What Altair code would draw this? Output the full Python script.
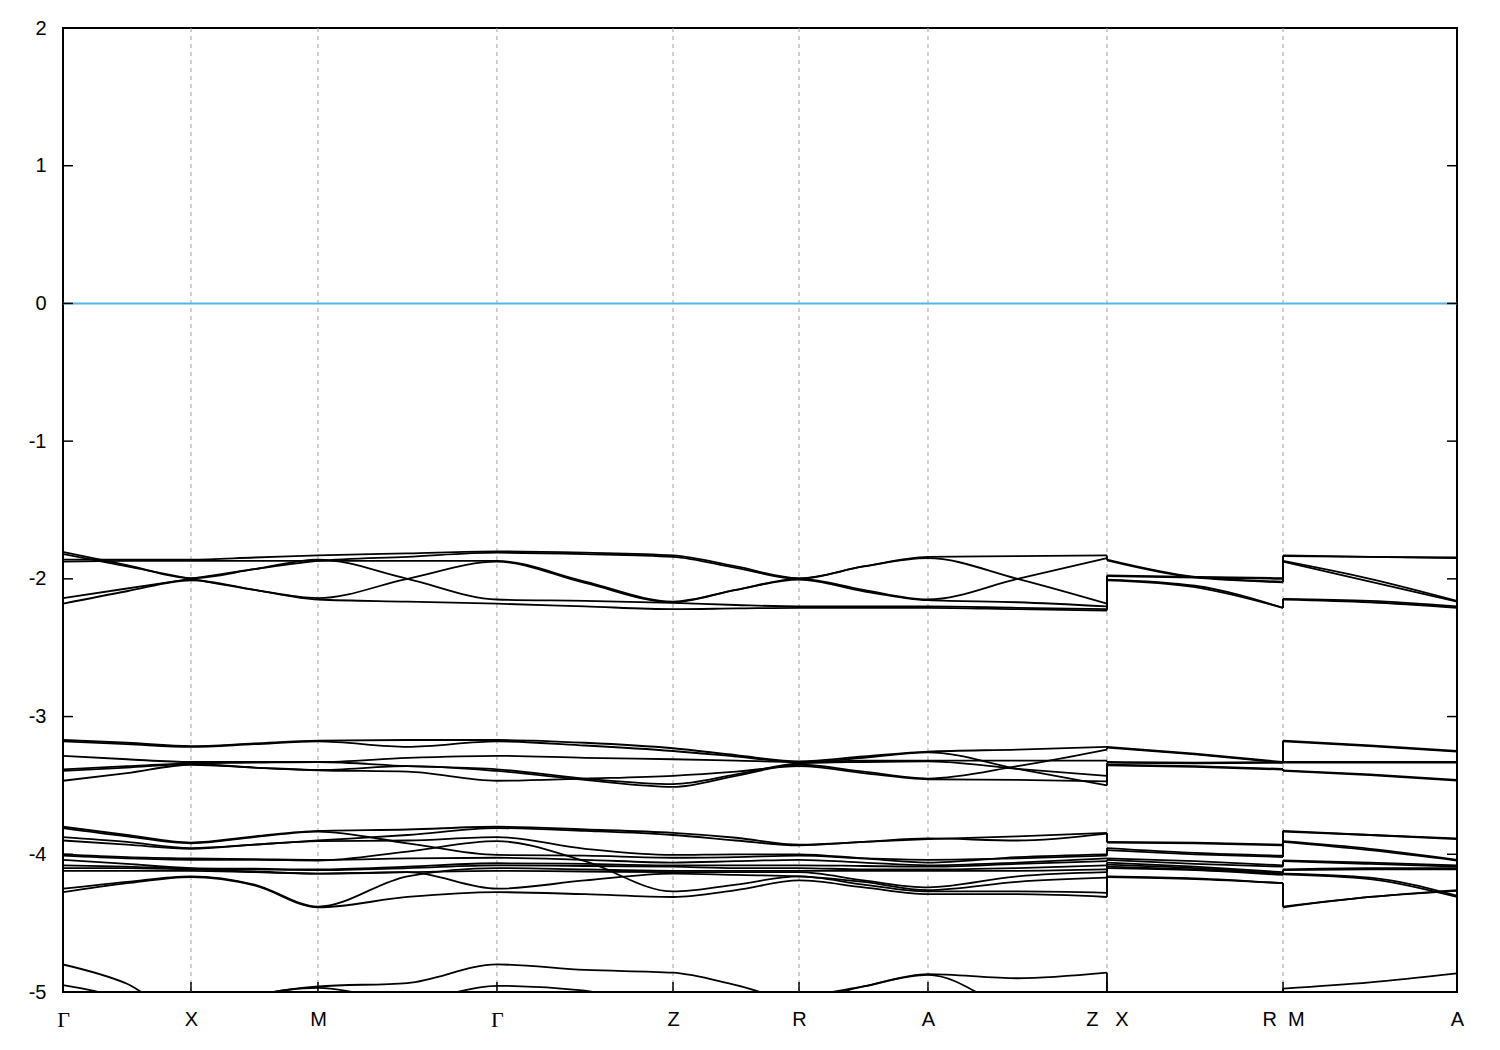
import altair as alt
import pandas as pd

# ---------------- data ----------------
# high-symmetry points (fractional path distance) and their labels
K_POS = [0.0, 0.0918, 0.1829, 0.3113, 0.4376, 0.5280, 0.6205, 0.7489, 0.8752, 1.0]
K_LABELS = ["Γ", "X", "M", "Γ", "Z", "R", "A",
            "Z\u00a0\u00a0\u00a0X", "R\u00a0\u00a0M", "A"]
Y_TICKS = [-5, -4, -3, -2, -1, 0, 1, 2]
FERMI = [0.0]

# band energies (eV) sampled at
# Γ,·,X,·,M,·,Γ,·,Z,·,R,·,A,·,Z | X,·,R | M,·,A
B1 = [-1.805, -1.90, -1.995, -1.93, -1.86, -2.00, -2.15, -2.16, -2.175, -2.19, -2.20, -2.20, -2.20, -2.21, -2.22, -2.005, -2.05, -2.21, -2.145, -2.16, -2.20]
B2 = [-1.82, -1.91, -2.00, -2.08, -2.14, -2.00, -1.875, -2.03, -2.17, -2.08, -2.005, -2.09, -2.155, -2.17, -2.20, -1.98, -1.99, -2.00, -1.875, -2.02, -2.165]
B3 = [-1.86, -1.86, -1.86, -1.845, -1.83, -1.815, -1.80, -1.81, -1.83, -1.91, -1.995, -1.91, -1.84, -1.835, -1.83, -1.86, -1.985, -2.02, -1.83, -1.84, -1.845]
B4 = [-1.875, -1.87, -1.87, -1.87, -1.87, -1.87, -1.87, -2.02, -2.165, -2.08, -2.00, -2.08, -2.15, -2.00, -1.85, -1.865, -1.99, -2.025, -1.835, -1.84, -1.85]
B5 = [-2.14, -2.07, -2.00, -1.93, -1.87, -1.84, -1.81, -1.82, -1.84, -1.92, -2.00, -1.91, -1.85, -2.00, -2.18, -1.975, -1.985, -1.995, -1.87, -2.00, -2.16]
B6 = [-2.18, -2.09, -2.01, -2.08, -2.15, -2.165, -2.18, -2.20, -2.22, -2.215, -2.21, -2.21, -2.21, -2.22, -2.23, -2.01, -2.06, -2.21, -2.15, -2.17, -2.21]

C1 = [-3.17, -3.19, -3.215, -3.195, -3.175, -3.17, -3.17, -3.19, -3.23, -3.28, -3.325, -3.29, -3.255, -3.24, -3.22, -3.22, -3.27, -3.33, -3.175, -3.21, -3.25]
C2 = [-3.18, -3.20, -3.22, -3.20, -3.18, -3.22, -3.18, -3.21, -3.25, -3.29, -3.33, -3.30, -3.26, -3.38, -3.50, -3.35, -3.36, -3.38, -3.39, -3.42, -3.46]
C3 = [-3.285, -3.31, -3.33, -3.33, -3.33, -3.30, -3.285, -3.30, -3.31, -3.32, -3.33, -3.32, -3.32, -3.32, -3.32, -3.33, -3.335, -3.33, -3.33, -3.33, -3.33]
C4 = [-3.383, -3.36, -3.34, -3.335, -3.33, -3.36, -3.383, -3.45, -3.49, -3.42, -3.34, -3.33, -3.325, -3.38, -3.43, -3.335, -3.34, -3.335, -3.335, -3.335, -3.335]
C5 = [-3.395, -3.37, -3.345, -3.37, -3.388, -3.36, -3.395, -3.46, -3.51, -3.43, -3.35, -3.40, -3.45, -3.36, -3.24, -3.225, -3.275, -3.335, -3.18, -3.215, -3.255]
C6 = [-3.466, -3.41, -3.35, -3.37, -3.39, -3.40, -3.466, -3.45, -3.43, -3.40, -3.36, -3.41, -3.455, -3.46, -3.47, -3.355, -3.365, -3.385, -3.395, -3.425, -3.465]

D1 = [-3.80, -3.86, -3.915, -3.87, -3.83, -3.82, -3.80, -3.82, -3.845, -3.88, -3.93, -3.91, -3.885, -3.90, -3.85, -3.91, -3.915, -3.93, -3.83, -3.86, -3.885]
D2 = [-3.81, -3.87, -3.92, -3.875, -3.835, -3.92, -4.005, -4.01, -4.025, -4.02, -4.01, -4.03, -4.04, -4.03, -4.01, -3.97, -4.00, -4.02, -3.91, -3.97, -4.045]
D3 = [-3.875, -3.91, -3.955, -3.93, -3.90, -3.86, -3.81, -3.83, -3.86, -3.90, -3.935, -3.91, -3.89, -3.87, -3.845, -3.915, -3.92, -3.935, -3.835, -3.86, -3.89]
D4 = [-3.90, -3.93, -3.96, -3.93, -3.905, -3.90, -3.875, -3.96, -4.005, -4.00, -4.00, -4.03, -4.06, -4.02, -4.00, -3.955, -3.99, -4.01, -3.905, -3.96, -4.04]
D5 = [-4.00, -4.02, -4.03, -4.035, -4.04, -4.03, -4.025, -4.04, -4.06, -4.05, -4.04, -4.06, -4.08, -4.06, -4.03, -4.03, -4.05, -4.08, -4.045, -4.06, -4.08]
D6 = [-4.01, -4.03, -4.04, -4.04, -4.045, -3.98, -3.905, -4.05, -4.27, -4.22, -4.16, -4.22, -4.27, -4.27, -4.28, -4.16, -4.175, -4.21, -4.38, -4.31, -4.26]
D7 = [-4.04, -4.07, -4.10, -4.105, -4.11, -4.09, -4.065, -4.07, -4.08, -4.08, -4.08, -4.085, -4.09, -4.07, -4.05, -4.04, -4.07, -4.09, -4.05, -4.07, -4.09]
D8 = [-4.08, -4.09, -4.105, -4.11, -4.115, -4.10, -4.08, -4.085, -4.09, -4.10, -4.10, -4.11, -4.11, -4.10, -4.08, -4.06, -4.09, -4.13, -4.11, -4.10, -4.10]
D9 = [-4.10, -4.10, -4.11, -4.125, -4.14, -4.13, -4.25, -4.19, -4.14, -4.15, -4.16, -4.20, -4.26, -4.20, -4.17, -4.10, -4.115, -4.15, -4.145, -4.18, -4.31]
D10 = [-4.12, -4.12, -4.12, -4.13, -4.14, -4.13, -4.12, -4.125, -4.13, -4.13, -4.13, -4.19, -4.24, -4.16, -4.13, -4.09, -4.11, -4.14, -4.14, -4.17, -4.30]
D11 = [-4.25, -4.20, -4.16, -4.22, -4.38, -4.16, -4.10, -4.11, -4.12, -4.12, -4.12, -4.12, -4.12, -4.12, -4.11, -4.075, -4.10, -4.14, -4.115, -4.11, -4.11]
D12 = [-4.275, -4.21, -4.165, -4.225, -4.385, -4.31, -4.275, -4.29, -4.31, -4.26, -4.19, -4.24, -4.29, -4.29, -4.31, -4.165, -4.18, -4.21, -4.385, -4.31, -4.265]

E1 = [-4.80, -4.94, -5.20, -5.03, -4.96, -4.935, -4.80, -4.84, -4.86, -4.95, -5.06, -4.96, -4.87, -4.90, -4.86, -5.30, -5.30, -5.30, -4.975, -4.93, -4.865]
E2 = [-4.95, -5.06, -5.30, -5.03, -4.97, -5.06, -4.955, -4.99, -5.20, -5.30, -5.06, -4.96, -4.875, -5.15, -5.30, -5.30, -5.30, -5.30, -5.30, -5.30, -5.30]

BANDS = {
    "B1": B1, "B2": B2, "B3": B3, "B4": B4, "B5": B5, "B6": B6,
    "C1": C1, "C2": C2, "C3": C3, "C4": C4, "C5": C5, "C6": C6,
    "D1": D1, "D2": D2, "D3": D3, "D4": D4, "D5": D5, "D6": D6,
    "D7": D7, "D8": D8, "D9": D9, "D10": D10, "D11": D11, "D12": D12,
    "E1": E1, "E2": E2,
}

# ---------------- build tables ----------------
main_k = []
for i in range(7):
    main_k += [K_POS[i], (K_POS[i] + K_POS[i + 1]) / 2]
main_k.append(K_POS[7])
pieces = [
    (0, main_k),
    (15, [K_POS[7], (K_POS[7] + K_POS[8]) / 2, K_POS[8]]),
    (18, [K_POS[8], (K_POS[8] + K_POS[9]) / 2, K_POS[9]]),
]

rows, jumps = [], []
for name, e in BANDS.items():
    for p, (start, ks) in enumerate(pieces):
        for j, k in enumerate(ks):
            rows.append({"series": f"{name}_{p}", "idx": start + j, "k": k, "E": e[start + j]})
    jumps.append({"k": K_POS[7], "E": e[14], "E2": e[15]})
    jumps.append({"k": K_POS[8], "E": e[17], "E2": e[18]})

bands_df = pd.DataFrame(rows)
jumps_df = pd.DataFrame(jumps)
grid_df = pd.DataFrame({"k": K_POS[1:-1]})
kticks_df = pd.DataFrame({"k": K_POS})
yticks_df = pd.DataFrame({"E": Y_TICKS})
fermi_df = pd.DataFrame({"E": FERMI})

W, H = 1394, 964
LW = 1.8

label_expr = ""
for k, lab in zip(K_POS, K_LABELS):
    label_expr += f"abs(datum.value - {k}) < 1e-6 ? '{lab}' : "
label_expr += "''"
gamma_test = " || ".join(
    f"abs(datum.value - {k}) < 1e-6" for k, lab in zip(K_POS, K_LABELS) if lab == "Γ"
)

x_axis = alt.Axis(
    values=K_POS, labelExpr=label_expr, title=None, grid=False, ticks=False,
    domain=False, labelFontSize={"condition": {"test": gamma_test, "value": 22}, "value": 20},
    labelFont={"condition": {"test": gamma_test, "value": "Liberation Serif"}, "value": "Liberation Sans"},
    labelPadding=17, labelColor="black", labelOverlap=False, labelFlush=False,
)
y_axis = alt.Axis(
    values=Y_TICKS, labelExpr="toString(datum.value)", title=None, grid=False,
    ticks=False, domain=False, labelFontSize=20, labelFont="Liberation Sans",
    labelPadding=17, labelColor="black", labelOverlap=False, labelFlush=False,
)
x_scale = alt.Scale(domain=[0, 1], nice=False, zero=False)
y_scale = alt.Scale(domain=[-5, 2], nice=False, zero=False)

X = alt.X("k:Q", scale=x_scale, axis=x_axis)
Y = alt.Y("E:Q", scale=y_scale, axis=y_axis)

grid = alt.Chart(grid_df).mark_rule(
    color="#a0a0a0", strokeWidth=1, strokeDash=[4, 4]
).encode(x=X)

fermi = alt.Chart(fermi_df).mark_rule(color="#56B4E9", strokeWidth=2).encode(y=Y)

lines = alt.Chart(bands_df).mark_line(
    interpolate="monotone", color="black", strokeWidth=LW, clip=True
).encode(x=X, y=Y, detail="series:N", order="idx:Q")

jump_rules = alt.Chart(jumps_df).mark_rule(
    color="black", strokeWidth=LW, clip=True
).encode(x=X, y=Y, y2="E2:Q")

left_ticks = alt.Chart(yticks_df).mark_rule(color="black", strokeWidth=1.5).encode(
    y=Y, x=alt.value(0), x2=alt.value(10))
right_ticks = alt.Chart(yticks_df).mark_rule(color="black", strokeWidth=1.5).encode(
    y=Y, x=alt.value(W - 10), x2=alt.value(W))
bottom_ticks = alt.Chart(kticks_df).mark_rule(color="black", strokeWidth=1.5).encode(
    x=X, y=alt.value(H), y2=alt.value(H - 10))

chart = alt.layer(
    grid, fermi, lines, jump_rules, left_ticks, right_ticks, bottom_ticks
).properties(
    width=W, height=H,
    padding={"left": 55, "top": 20, "right": 35, "bottom": 50},
    autosize=alt.AutoSizeParams(type="none"),
).configure(
    font="Liberation Sans", background="white"
).configure_view(
    stroke="black", strokeWidth=2
)

chart.save("out.html", embed_options={"renderer": "svg", "actions": False})
